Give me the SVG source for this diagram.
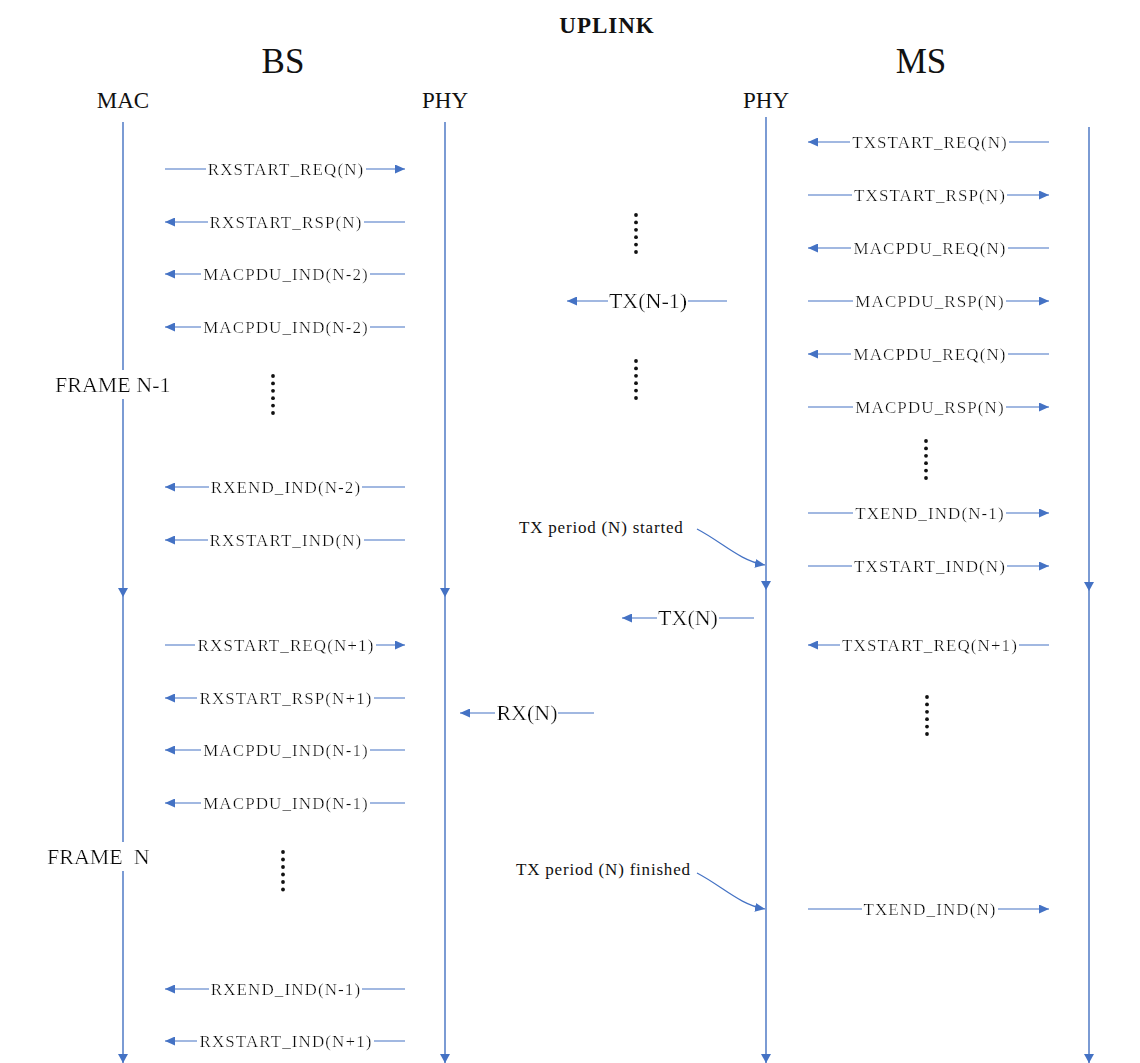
<svg xmlns="http://www.w3.org/2000/svg" width="1140" height="1063" viewBox="0 0 1140 1063">
<style>
text{font-family:"Liberation Serif","Times New Roman",serif;fill:#111;}
.lbl{font-size:17px;letter-spacing:1.1px;text-anchor:middle;filter:url(#bg);}
.big{font-size:22px;text-anchor:middle;filter:url(#bg);}
.frame{font-size:22px;filter:url(#bg);}
.note{font-size:17px;letter-spacing:0.8px;}
.msg{stroke:#4472C4;stroke-width:1.2;fill:none;marker-end:url(#ah);}
.life{stroke:#5b82c9;stroke-width:1.6;fill:none;marker-end:url(#lh);}
.dot{fill:#111;}
</style>
<defs>
<filter id="bg" x="-0.01" y="-0.05" width="1.015" height="1.1"><feFlood flood-color="#ffffff"/><feComposite in="SourceGraphic"/></filter>
<marker id="ah" viewBox="0 0 10 9" refX="10" refY="4.5" markerWidth="10" markerHeight="9" markerUnits="userSpaceOnUse" orient="auto"><path d="M0,0 L10,4.5 L0,9 z" fill="#4472C4"/></marker>
<marker id="lh" viewBox="0 0 9 10" refX="9" refY="5" markerWidth="9" markerHeight="10" markerUnits="userSpaceOnUse" orient="auto"><path d="M0,0 L9,5 L0,10 z" fill="#4472C4"/></marker>
</defs>
<rect width="1140" height="1063" fill="#fff"/>

<g id="titles">
<text x="607" y="33" style="font-size:23px;font-weight:bold;letter-spacing:1px" text-anchor="middle">UPLINK</text>
<text x="283" y="73" style="font-size:35px" text-anchor="middle">BS</text>
<text x="921" y="73" style="font-size:35px" text-anchor="middle">MS</text>
</g>

<g id="lifelines">
<path class="life" d="M123,122 V597"/>
<path class="life" d="M123,597 V1063"/>
<path class="life" d="M445,122 V597"/>
<path class="life" d="M445,597 V1063"/>
<path class="life" d="M766,117 V590"/>
<path class="life" d="M766,590 V1063"/>
<path class="life" d="M1089,127 V591"/>
<path class="life" d="M1089,591 V1063"/>
</g>

<g id="bs-mac"><text x="123" y="108" style="font-size:23px" text-anchor="middle">MAC</text></g>
<g id="bs-phy"><text x="445" y="108" style="font-size:23px" text-anchor="middle">PHY</text></g>
<g id="ms-phy"><text x="766" y="108" style="font-size:23px" text-anchor="middle">PHY</text></g>

<g id="connectors">
<path class="msg" d="M165,169 H405"/>
<path class="msg" d="M405,222 H165"/>
<path class="msg" d="M405,274 H165"/>
<path class="msg" d="M405,327 H165"/>
<path class="msg" d="M405,487 H165"/>
<path class="msg" d="M405,540 H165"/>
<path class="msg" d="M165,645 H405"/>
<path class="msg" d="M405,698 H165"/>
<path class="msg" d="M405,750 H165"/>
<path class="msg" d="M405,803 H165"/>
<path class="msg" d="M405,989 H165"/>
<path class="msg" d="M405,1041 H165"/>
<path class="msg" d="M1049,142 H808"/>
<path class="msg" d="M808,195 H1049"/>
<path class="msg" d="M1049,248 H808"/>
<path class="msg" d="M808,301 H1049"/>
<path class="msg" d="M1049,354 H808"/>
<path class="msg" d="M808,407 H1049"/>
<path class="msg" d="M808,513 H1049"/>
<path class="msg" d="M808,566 H1049"/>
<path class="msg" d="M1049,645 H808"/>
<path class="msg" d="M808,909 H1049"/>
<path class="msg" d="M727,301 H567"/>
<path class="msg" d="M754,618 H622"/>
<path class="msg" d="M594,713 H460"/>
<path class="msg" d="M697,529 C722,542 740,561 765,565"/>
<path class="msg" d="M697,873 C722,886 740,905 765,909"/>
</g>

<g id="labels">
<text class="lbl" x="286" y="175">RXSTART_REQ(N)</text>
<text class="lbl" x="286" y="228">RXSTART_RSP(N)</text>
<text class="lbl" x="286" y="280">MACPDU_IND(N-2)</text>
<text class="lbl" x="286" y="333">MACPDU_IND(N-2)</text>
<text class="lbl" x="286" y="493">RXEND_IND(N-2)</text>
<text class="lbl" x="286" y="546">RXSTART_IND(N)</text>
<text class="lbl" x="286" y="651">RXSTART_REQ(N+1)</text>
<text class="lbl" x="286" y="704">RXSTART_RSP(N+1)</text>
<text class="lbl" x="286" y="756">MACPDU_IND(N-1)</text>
<text class="lbl" x="286" y="809">MACPDU_IND(N-1)</text>
<text class="lbl" x="286" y="995">RXEND_IND(N-1)</text>
<text class="lbl" x="286" y="1047">RXSTART_IND(N+1)</text>

<text class="lbl" x="930" y="148">TXSTART_REQ(N)</text>
<text class="lbl" x="930" y="201">TXSTART_RSP(N)</text>
<text class="lbl" x="930" y="254">MACPDU_REQ(N)</text>
<text class="lbl" x="930" y="307">MACPDU_RSP(N)</text>
<text class="lbl" x="930" y="360">MACPDU_REQ(N)</text>
<text class="lbl" x="930" y="413">MACPDU_RSP(N)</text>
<text class="lbl" x="930" y="519">TXEND_IND(N-1)</text>
<text class="lbl" x="930" y="572">TXSTART_IND(N)</text>
<text class="lbl" x="930" y="651">TXSTART_REQ(N+1)</text>
<text class="lbl" x="930" y="915">TXEND_IND(N)</text>

<text class="big" x="648" y="308">TX(N-1)</text>
<text class="big" x="688" y="625">TX(N)</text>
<text class="big" x="527" y="720">RX(N)</text>

<text class="frame" x="55" y="392">FRAME N-1</text>
<text class="frame" x="47" y="864" xml:space="preserve">FRAME  N</text>

<text class="note" x="519" y="533">TX period (N) started</text>
<text class="note" x="516" y="875">TX period (N) finished</text>
</g>

<g id="ellipses">
<g class="dot">
<circle cx="636" cy="215" r="1.9"/><circle cx="636" cy="222.4" r="1.9"/><circle cx="636" cy="229.8" r="1.9"/><circle cx="636" cy="237.2" r="1.9"/><circle cx="636" cy="244.6" r="1.9"/><circle cx="636" cy="252" r="1.9"/>
<circle cx="636" cy="361" r="1.9"/><circle cx="636" cy="368.4" r="1.9"/><circle cx="636" cy="375.8" r="1.9"/><circle cx="636" cy="383.2" r="1.9"/><circle cx="636" cy="390.6" r="1.9"/><circle cx="636" cy="398" r="1.9"/>
<circle cx="273" cy="376" r="1.9"/><circle cx="273" cy="383.4" r="1.9"/><circle cx="273" cy="390.8" r="1.9"/><circle cx="273" cy="398.2" r="1.9"/><circle cx="273" cy="405.6" r="1.9"/><circle cx="273" cy="413" r="1.9"/>
<circle cx="926" cy="441" r="1.9"/><circle cx="926" cy="448.4" r="1.9"/><circle cx="926" cy="455.8" r="1.9"/><circle cx="926" cy="463.2" r="1.9"/><circle cx="926" cy="470.6" r="1.9"/><circle cx="926" cy="478" r="1.9"/>
<circle cx="927" cy="697" r="1.9"/><circle cx="927" cy="704.4" r="1.9"/><circle cx="927" cy="711.8" r="1.9"/><circle cx="927" cy="719.2" r="1.9"/><circle cx="927" cy="726.6" r="1.9"/><circle cx="927" cy="734" r="1.9"/>
<circle cx="283" cy="852" r="1.9"/><circle cx="283" cy="859.5" r="1.9"/><circle cx="283" cy="867" r="1.9"/><circle cx="283" cy="874.5" r="1.9"/><circle cx="283" cy="882" r="1.9"/><circle cx="283" cy="889.5" r="1.9"/>
</g>
</g>
</svg>
